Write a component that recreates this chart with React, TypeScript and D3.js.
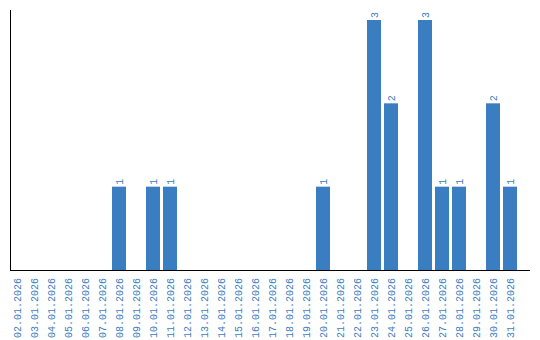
import React from "react";
import * as d3 from "d3";

const dates: string[] = [
  "02.01.2026","03.01.2026","04.01.2026","05.01.2026","06.01.2026","07.01.2026",
  "08.01.2026","09.01.2026","10.01.2026","11.01.2026","12.01.2026","13.01.2026",
  "14.01.2026","15.01.2026","16.01.2026","17.01.2026","18.01.2026","19.01.2026",
  "20.01.2026","21.01.2026","22.01.2026","23.01.2026","24.01.2026","25.01.2026",
  "26.01.2026","27.01.2026","28.01.2026","29.01.2026","30.01.2026","31.01.2026",
];
const counts: number[] = [
  0,0,0,0,0,0,
  1,0,1,1,0,0,
  0,0,0,0,0,0,
  1,0,0,3,2,0,
  3,1,1,0,2,1,
];

const W = 540, H = 340;
const COLOR = "#3b7dc1";
const FONT = "'Liberation Mono', 'DejaVu Sans Mono', monospace";

export default function App() {
  const x = d3.scaleBand<string>().domain(dates).range([10, 517]).paddingInner(3 / 17).paddingOuter(0);
  const y = d3.scaleLinear().domain([0, 3]).range([270, 20]);
  return (
    <svg width={W} height={H} style={{ position: "absolute", left: 0, top: 0, background: "#fff" }}>
      {dates.map((d, i) => {
        const v = counts[i];
        const bx = x(d)!;
        const cx = bx + x.bandwidth() / 2;
        return (
          <g key={d}>
            {v > 0 && (
              <rect x={bx} y={y(v)} width={x.bandwidth()} height={y(0) - y(v)} fill={COLOR} />
            )}
            {v > 0 && (
              <text
                transform={`translate(${cx + 3.5},${y(v) - 2}) rotate(-90)`}
                fontFamily={FONT}
                fontSize={10}
                fill={COLOR}
                textAnchor="start"
              >
                {v}
              </text>
            )}
            <text
              transform={`translate(${cx + 3.5},${278}) rotate(-90)`}
              fontFamily={FONT}
              fontSize={10}
              fill={COLOR}
              textAnchor="end"
            >
              {d}
            </text>
          </g>
        );
      })}
      <line x1={10.5} y1={10} x2={10.5} y2={270} stroke="#000" strokeWidth={1} />
      <line x1={10} y1={270.5} x2={530} y2={270.5} stroke="#000" strokeWidth={1} />
    </svg>
  );
}
